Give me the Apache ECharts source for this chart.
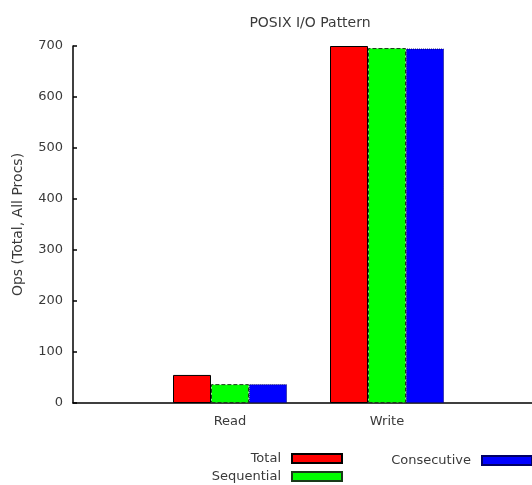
<!DOCTYPE html>
<html>
<head>
<meta charset="utf-8">
<script src="https://cdn.jsdelivr.net/npm/echarts@6/dist/echarts.min.js"></script>
<style>html,body{margin:0;padding:0;background:#fff;}#c{width:532px;height:485px;}</style>
</head>
<body>
<div id="c"></div>
<script>
const categories = ['', 'Read', 'Write', ''];
const totalOps = [null, 55, 700, null];
const sequentialOps = [null, 37, 696, null];
const consecutiveOps = [null, 37, 695, null];
const yTicks = [0, 100, 200, 300, 400, 500, 600, 700];

const FONT = 'DejaVu Sans';
const TXT = '#3a3a3a';
const chart = echarts.init(document.getElementById('c'));

function legendFor(name, right, top) {
  return {
    data: [name], right: right, top: top, align: 'right', orient: 'horizontal',
    itemWidth: 50, itemHeight: 9, padding: 0, selectedMode: false, icon: 'rect',
    textStyle: { fontFamily: FONT, fontSize: 13, color: TXT, padding: [0, 6, 0, 0] }
  };
}

chart.setOption({
  animation: false,
  backgroundColor: '#fff',
  title: {
    text: 'POSIX I/O Pattern', left: 305, top: 11, textAlign: 'center',
    textStyle: { fontFamily: FONT, fontSize: 14, fontWeight: 'normal', color: TXT }
  },
  legend: [
    legendFor('Total', 189, 452),
    legendFor('Sequential', 189, 470),
    legendFor('Consecutive', -1, 454)
  ],
  grid: { left: 73, right: -12, top: 46, bottom: 82, containLabel: false, outerBoundsMode: 'none' },
  xAxis: {
    type: 'category', data: categories, boundaryGap: false,
    axisLine: { lineStyle: { color: '#000', width: 1.5 } },
    axisTick: { show: false },
    axisLabel: { fontFamily: FONT, fontSize: 13, color: TXT, margin: 12, interval: 0 },
    splitLine: { show: false }
  },
  yAxis: {
    type: 'value', min: yTicks[0], max: yTicks[yTicks.length - 1], interval: 100,
    name: 'Ops (Total, All Procs)', nameLocation: 'middle', nameGap: 48,
    nameTextStyle: { fontFamily: FONT, fontSize: 14, color: TXT },
    axisLine: { show: true, lineStyle: { color: '#000', width: 1.5 } },
    axisTick: { show: true, inside: true, length: 4, lineStyle: { color: '#000', width: 1.5 } },
    axisLabel: { fontFamily: FONT, fontSize: 13, color: TXT, margin: 10 },
    splitLine: { show: false }
  },
  series: [
    { name: 'Total', type: 'bar', data: totalOps, barWidth: 38, barGap: '0%',
      itemStyle: { color: '#ff0000', borderColor: '#000', borderWidth: 1, borderType: 'solid' } },
    { name: 'Sequential', type: 'bar', data: sequentialOps, barWidth: 38, barGap: '0%',
      itemStyle: { color: '#00ff00', borderColor: '#1a3a1a', borderWidth: 1, borderType: 'dashed' } },
    { name: 'Consecutive', type: 'bar', data: consecutiveOps, barWidth: 38, barGap: '0%',
      itemStyle: { color: '#0000ff', borderColor: '#000066', borderWidth: 1, borderType: 'dotted' } }
  ]
});
</script>
</body>
</html>
